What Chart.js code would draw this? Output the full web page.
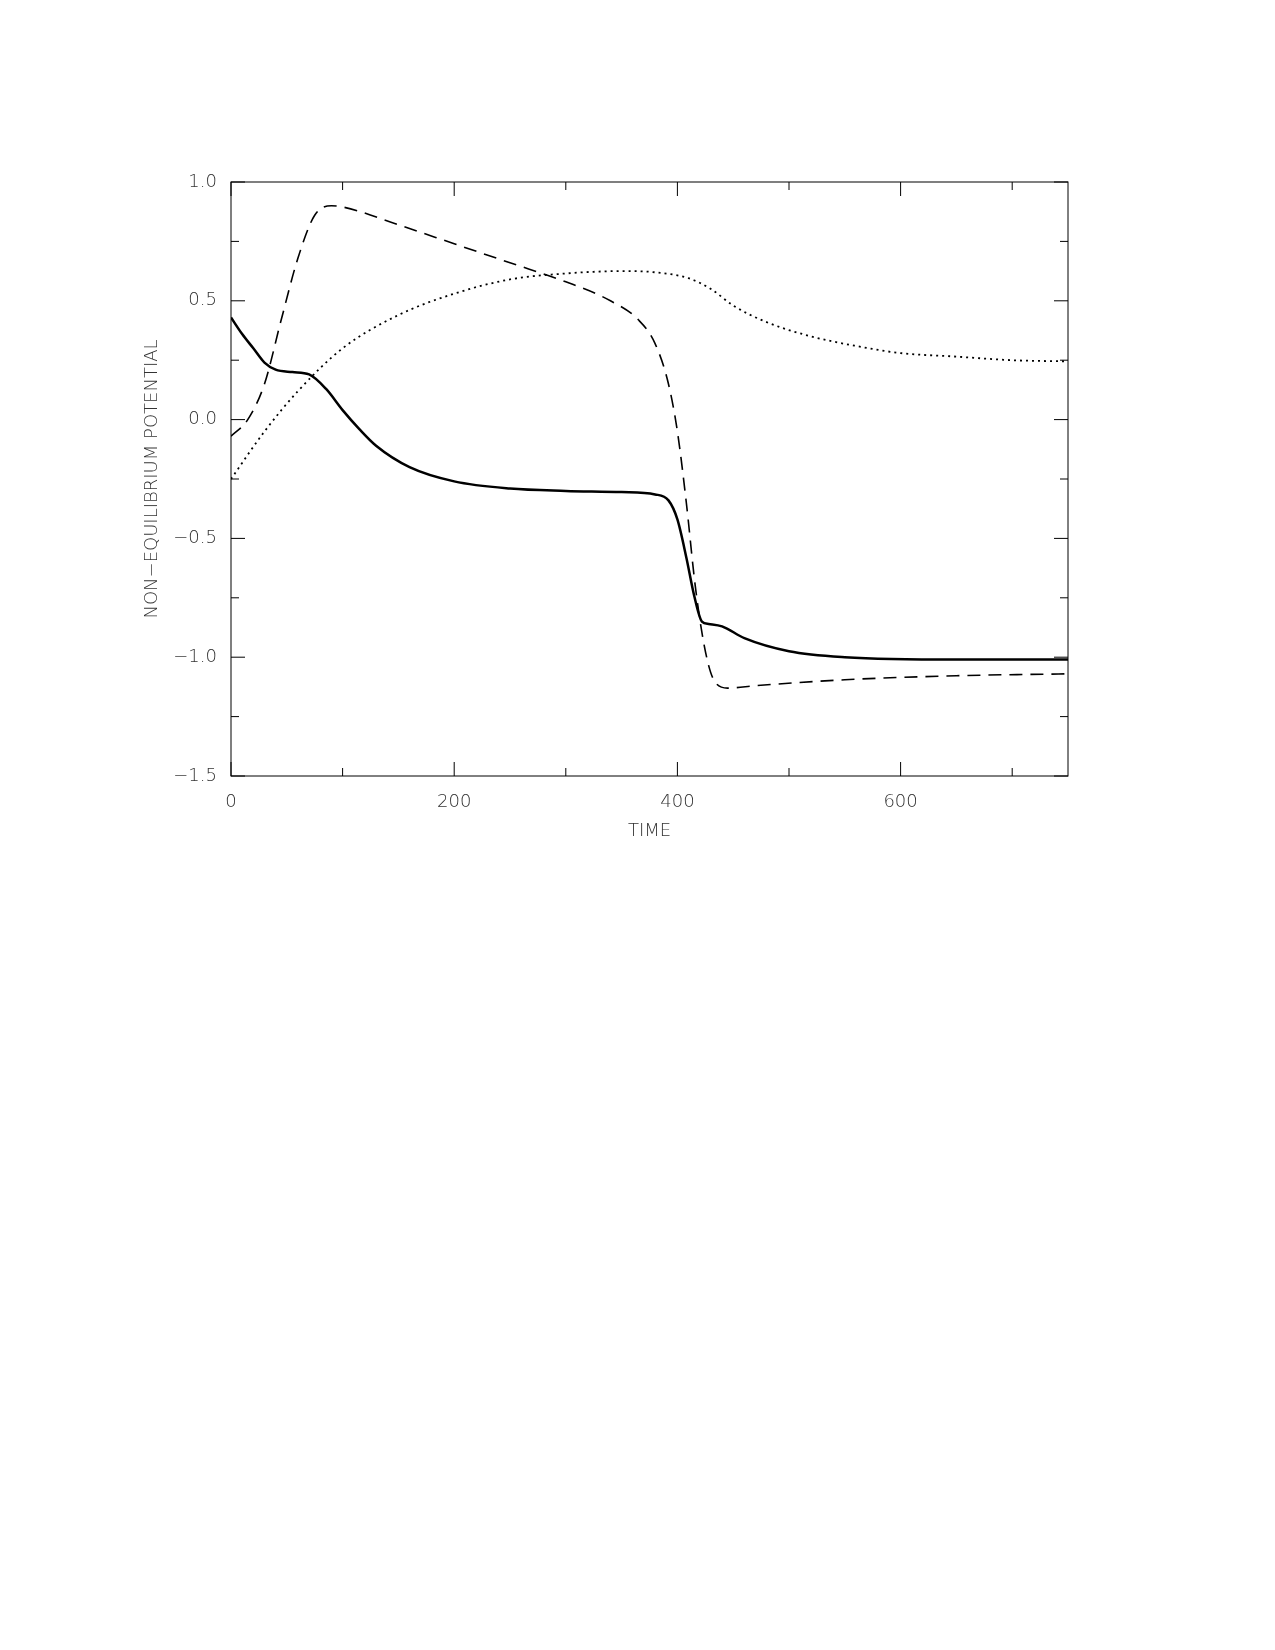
<!DOCTYPE html>
<html>
<head>
<meta charset="utf-8">
<script src="https://cdn.jsdelivr.net/npm/chart.js@4/dist/chart.umd.min.js"></script>
<style>
  body { margin: 0; background: #fff; overflow: hidden; }
  #wrap { position: absolute; left: 0; top: 0; width: 1275px; height: 1650px; }
</style>
</head>
<body>
<div id="wrap"><canvas id="plot"></canvas></div>
<script>
// time samples and curves
const solidT = [0, 10, 20, 30, 40, 55, 70, 85, 100, 115, 130, 160, 200, 250, 300, 350, 380, 392, 400, 408, 415, 422, 428, 440, 460, 500, 550, 650, 750];
const solidV = [0.43, 0.36, 0.30, 0.24, 0.21, 0.20, 0.19, 0.13, 0.04, -0.04, -0.11, -0.20, -0.26, -0.29, -0.30, -0.305, -0.315, -0.34, -0.42, -0.58, -0.74, -0.85, -0.86, -0.87, -0.92, -0.975, -1.0, -1.01, -1.01];

const dashT = [0, 15, 30, 45, 60, 75, 90, 100, 150, 200, 250, 300, 340, 365, 380, 392, 400, 408, 416, 424, 432, 445, 470, 550, 650, 750];
const dashV = [-0.07, 0.0, 0.15, 0.42, 0.68, 0.86, 0.90, 0.895, 0.82, 0.74, 0.66, 0.58, 0.50, 0.42, 0.32, 0.15, -0.05, -0.35, -0.7, -0.95, -1.09, -1.13, -1.12, -1.095, -1.078, -1.07];

const dotT = [0, 30, 60, 100, 150, 200, 250, 300, 350, 380, 410, 430, 450, 480, 520, 560, 600, 650, 700, 750];
const dotV = [-0.25, -0.05, 0.12, 0.30, 0.44, 0.53, 0.59, 0.615, 0.625, 0.62, 0.595, 0.55, 0.48, 0.41, 0.35, 0.31, 0.28, 0.265, 0.25, 0.245];

const xTicks = [0, 200, 400, 600];
const xMinor = [100, 300, 500, 700];
const yTicks = [-1.5, -1.0, -0.5, 0.0, 0.5, 1.0];
const yMinor = [-1.25, -0.75, -0.25, 0.25, 0.75];

const pts = (t, v) => t.map((x, i) => ({ x: x, y: v[i] }));

const inTicks = {
  id: 'inTicks',
  afterDraw(chart) {
    const c = chart.ctx, a = chart.chartArea, sx = chart.scales.x, sy = chart.scales.y;
    c.save();
    c.strokeStyle = '#000';
    c.lineWidth = 1;
    c.strokeRect(a.left, a.top, a.right - a.left, a.bottom - a.top);
    c.beginPath();
    xTicks.concat(xMinor).forEach(v => {
      const p = sx.getPixelForValue(v), len = xTicks.includes(v) ? 14 : 8;
      c.moveTo(p, a.bottom); c.lineTo(p, a.bottom - len);
      c.moveTo(p, a.top); c.lineTo(p, a.top + len);
    });
    yTicks.concat(yMinor).forEach(v => {
      const p = sy.getPixelForValue(v), len = yTicks.includes(v) ? 14 : 8;
      c.moveTo(a.left, p); c.lineTo(a.left + len, p);
      c.moveTo(a.right, p); c.lineTo(a.right - len, p);
    });
    c.stroke();
    c.restore();
  }
};

const fmt = v => (v < 0 ? '\u2212' : '') + Math.abs(v).toFixed(1);
const thin = { family: 'DejaVu Sans', size: 18, weight: 200 };

new Chart(document.getElementById('plot'), {
  type: 'line',
  data: {
    datasets: [
      { data: pts(solidT, solidV), borderColor: '#000', borderWidth: 2.5, pointRadius: 0, cubicInterpolationMode: 'monotone' },
      { data: pts(dashT, dashV), borderColor: '#000', borderWidth: 1.6, borderDash: [13, 8], pointRadius: 0, cubicInterpolationMode: 'monotone' },
      { data: pts(dotT, dotV), borderColor: '#000', borderWidth: 1.8, borderDash: [2, 4], pointRadius: 0, cubicInterpolationMode: 'monotone' }
    ]
  },
  options: {
    responsive: true,
    maintainAspectRatio: false,
    animation: false,
    layout: { padding: { left: 138, top: 182, right: 207, bottom: 804 } },
    plugins: { legend: { display: false }, tooltip: { enabled: false } },
    scales: {
      x: {
        type: 'linear', min: 0, max: 750,
        afterFit: s => { s.height = 70; },
        afterBuildTicks: s => { s.ticks = xTicks.map(v => ({ value: v })); },
        grid: { display: false },
        border: { display: false },
        ticks: { color: '#333', font: thin, padding: 8, maxRotation: 0 },
        title: { display: true, text: 'TIME', color: '#333', font: thin, padding: { top: 0 } }
      },
      y: {
        min: -1.5, max: 1.0,
        afterFit: s => { s.width = 93; },
        afterBuildTicks: s => { s.ticks = yTicks.map(v => ({ value: v })); },
        grid: { display: false },
        border: { display: false },
        ticks: { color: '#333', font: thin, padding: 6, callback: fmt },
        title: { display: true, text: 'NON\u2212EQUILIBRIUM POTENTIAL', color: '#333', font: thin, padding: { bottom: 8 } }
      }
    }
  },
  plugins: [inTicks]
});
</script>
</body>
</html>
